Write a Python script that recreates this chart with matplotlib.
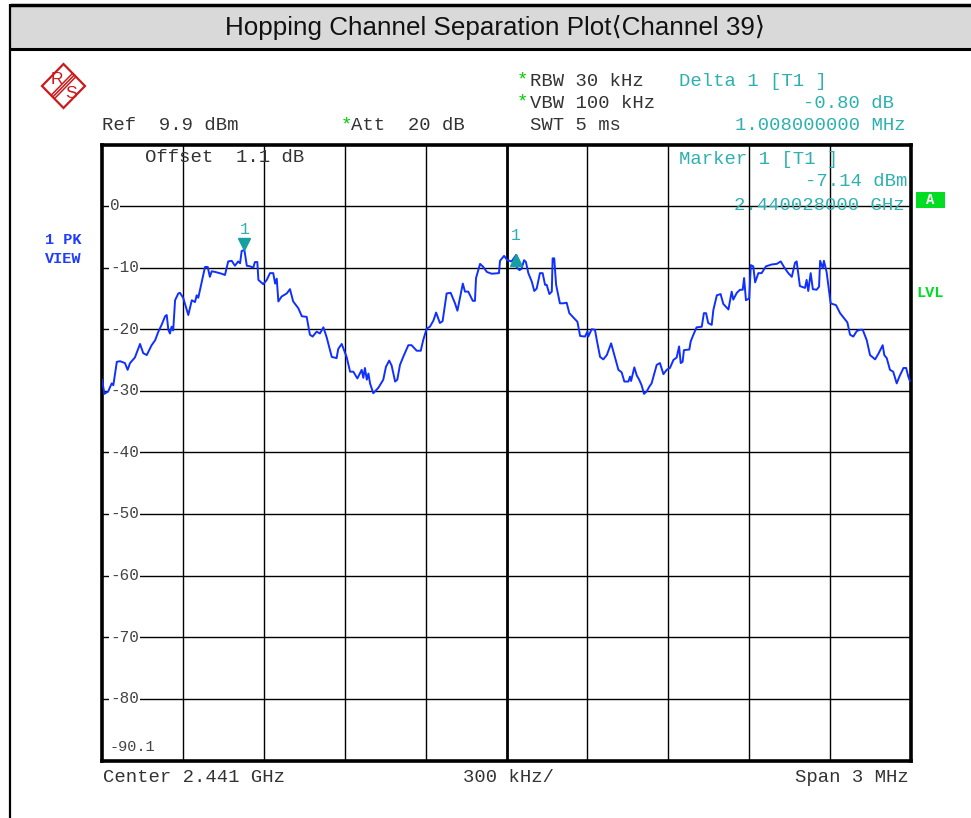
import numpy as np
import matplotlib
matplotlib.use('Agg')
import matplotlib.pyplot as plt
from matplotlib.patches import Rectangle, Polygon
from matplotlib import transforms

# ---------------- data ----------------
freq_mhz = [2439.500, 2439.509, 2439.523, 2439.536, 2439.542, 2439.555, 2439.567, 2439.585, 2439.595, 2439.604,
            2439.622, 2439.641, 2439.653, 2439.666, 2439.684, 2439.697, 2439.709, 2439.721, 2439.734, 2439.740,
            2439.746, 2439.752, 2439.758, 2439.764, 2439.771, 2439.783, 2439.789, 2439.801, 2439.820, 2439.833,
            2439.845, 2439.851, 2439.857, 2439.870, 2439.882, 2439.892, 2439.900, 2439.907, 2439.919, 2439.944,
            2439.956, 2439.968, 2439.981, 2439.993, 2440.005, 2440.012, 2440.018, 2440.028, 2440.037, 2440.049,
            2440.061, 2440.067, 2440.076, 2440.080, 2440.098, 2440.111, 2440.123, 2440.135, 2440.142, 2440.148,
            2440.154, 2440.166, 2440.185, 2440.197, 2440.209, 2440.228, 2440.241, 2440.259, 2440.271, 2440.281,
            2440.296, 2440.308, 2440.321, 2440.333, 2440.352, 2440.370, 2440.376, 2440.389, 2440.407, 2440.420,
            2440.432, 2440.447, 2440.463, 2440.469, 2440.475, 2440.482, 2440.488, 2440.494, 2440.506, 2440.525,
            2440.543, 2440.553, 2440.565, 2440.574, 2440.587, 2440.595, 2440.605, 2440.617, 2440.636, 2440.648,
            2440.667, 2440.682, 2440.691, 2440.704, 2440.716, 2440.729, 2440.739, 2440.753, 2440.763, 2440.778,
            2440.793, 2440.809, 2440.818, 2440.828, 2440.838, 2440.846, 2440.858, 2440.875, 2440.883, 2440.887,
            2440.902, 2440.914, 2440.927, 2440.945, 2440.972, 2440.976, 2440.991, 2441.003, 2441.019, 2441.036,
            2441.038, 2441.048, 2441.056, 2441.065, 2441.072, 2441.081, 2441.094, 2441.103, 2441.112, 2441.124,
            2441.134, 2441.143, 2441.149, 2441.159, 2441.168, 2441.171, 2441.177, 2441.184, 2441.198, 2441.211,
            2441.223, 2441.233, 2441.248, 2441.263, 2441.273, 2441.291, 2441.300, 2441.303, 2441.316, 2441.328,
            2441.335, 2441.347, 2441.359, 2441.372, 2441.388, 2441.402, 2441.415, 2441.427, 2441.437, 2441.452,
            2441.458, 2441.462, 2441.474, 2441.483, 2441.492, 2441.501, 2441.510, 2441.520, 2441.530, 2441.538,
            2441.557, 2441.569, 2441.582, 2441.594, 2441.606, 2441.619, 2441.631, 2441.640, 2441.646, 2441.653,
            2441.658, 2441.678, 2441.683, 2441.693, 2441.705, 2441.724, 2441.732, 2441.740, 2441.748, 2441.761,
            2441.767, 2441.780, 2441.794, 2441.804, 2441.823, 2441.835, 2441.841, 2441.854, 2441.866, 2441.876,
            2441.881, 2441.888, 2441.900, 2441.906, 2441.915, 2441.922, 2441.934, 2441.946, 2441.962, 2441.983,
            2442.002, 2442.017, 2442.029, 2442.045, 2442.058, 2442.070, 2442.076, 2442.088, 2442.107, 2442.113,
            2442.119, 2442.128, 2442.136, 2442.150, 2442.159, 2442.163, 2442.173, 2442.177, 2442.187, 2442.202,
            2442.222, 2442.237, 2442.255, 2442.264, 2442.274, 2442.286, 2442.299, 2442.311, 2442.321, 2442.336,
            2442.348, 2442.367, 2442.379, 2442.395, 2442.401, 2442.410, 2442.422, 2442.434, 2442.447, 2442.457,
            2442.472, 2442.482, 2442.490, 2442.496]

level_dbm = [-28.2, -30.5, -30.1, -28.8, -29.1, -25.3, -25.2, -25.5, -26.6, -25.5,
             -24.6, -22.4, -23.9, -24.2, -22.6, -21.8, -20.4, -19.3, -17.9, -17.7,
             -20.1, -20.7, -19.6, -20.2, -15.3, -14.2, -14.1, -14.9, -17.7, -15.3,
             -15.6, -14.5, -14.9, -12.3, -9.9, -9.9, -11.5, -10.6, -10.7, -11.0,
             -11.2, -9.0, -8.9, -9.7, -9.0, -9.3, -7.3, -7.14, -9.7, -9.8,
             -10.0, -9.1, -9.1, -12.0, -12.7, -12.0, -10.9, -10.9, -12.6, -11.8,
             -15.5, -14.7, -14.2, -13.5, -15.5, -16.6, -17.9, -18.0, -20.9, -21.2,
             -20.4, -20.7, -19.7, -21.3, -24.5, -24.7, -23.2, -22.4, -24.5, -26.9,
             -26.9, -28.0, -26.6, -27.9, -26.3, -28.2, -27.2, -28.8, -30.4, -29.5,
             -28.2, -26.1, -25.1, -25.9, -28.5, -28.2, -25.8, -24.5, -22.6, -22.6,
             -23.5, -23.5, -21.8, -19.9, -19.6, -18.6, -17.3, -19.0, -18.7, -14.2,
             -14.1, -15.8, -17.0, -14.8, -12.6, -13.9, -13.9, -15.4, -15.4, -11.7,
             -9.4, -9.9, -10.7, -11.0, -10.9, -8.9, -8.1, -8.8, -9.0, -7.94,
             -10.0, -10.4, -10.2, -8.8, -9.1, -10.9, -12.3, -13.8, -13.4, -10.9,
             -10.9, -12.8, -12.8, -14.3, -13.9, -8.5, -8.5, -12.8, -15.8, -15.8,
             -15.7, -17.4, -18.1, -18.8, -21.1, -21.2, -20.4, -21.2, -20.0, -20.1,
             -21.8, -24.5, -24.9, -24.2, -22.3, -24.5, -26.6, -27.0, -28.5, -28.5,
             -27.7, -28.4, -26.2, -27.5, -28.2, -29.1, -30.5, -30.1, -29.3, -28.8,
             -25.8, -25.5, -27.3, -26.6, -26.3, -25.0, -24.6, -22.8, -25.5, -25.3,
             -23.4, -23.3, -22.0, -20.9, -19.7, -19.6, -17.4, -17.4, -19.0, -19.3,
             -16.9, -14.5, -14.3, -15.9, -16.8, -13.9, -15.2, -14.1, -13.6, -13.6,
             -11.7, -15.3, -15.0, -9.6, -9.8, -12.4, -10.9, -10.9, -9.8, -9.5,
             -9.4, -9.0, -9.9, -10.9, -11.5, -9.2, -9.0, -13.0, -13.3, -12.0,
             -13.8, -10.9, -13.5, -13.6, -13.1, -8.9, -10.1, -8.9, -10.7, -15.8,
             -16.1, -17.4, -18.4, -18.9, -20.9, -21.2, -20.3, -20.1, -20.1, -21.8,
             -24.2, -24.9, -24.0, -22.6, -24.2, -24.7, -26.6, -26.9, -28.8, -27.7,
             -26.3, -26.3, -27.7, -28.4]

n = min(len(freq_mhz), len(level_dbm))
freq_mhz = freq_mhz[:n]
level_dbm = level_dbm[:n]

center_mhz = 2441.0
span_mhz = 3.0
ref_level = 9.9
range_db = 100.0
y_ticks = [0, -10, -20, -30, -40, -50, -60, -70, -80]
y_tick_labels = ['0', '-10', '-20', '-30', '-40', '-50', '-60', '-70', '-80']
bottom_label = '-90.1'

marker1_freq = 2440.028
marker1_level = -7.14
delta_freq = 1.008
delta_level = -0.80

# ---------------- figure ----------------
W, H = 971, 818
fig = plt.figure(figsize=(W / 100, H / 100), dpi=100)
fig.patch.set_facecolor('white')

ov = fig.add_axes([0, 0, 1, 1], zorder=0)
ov.set_xlim(0, W); ov.set_ylim(H, 0); ov.axis('off')

ax = fig.add_axes([102 / W, 1 - 761 / H, 809 / W, 616 / H], zorder=1)
top = fig.add_axes([0, 0, 1, 1], zorder=2)
top.set_xlim(0, W); top.set_ylim(H, 0); top.axis('off')
top.patch.set_alpha(0)

MONO = 'Liberation Mono'
TXT = '#333333'
TEAL = '#2fb0b0'
GREEN = '#00cc00'

# title band
ov.add_patch(Rectangle((10, 5), W - 10, 43, fc='#d9d9d9', ec='none'))
ov.plot([10, W], [5, 5], color='black', lw=2.5, solid_capstyle='butt')
ov.plot([10, W], [48.5, 48.5], color='black', lw=2.2, solid_capstyle='butt')
ov.plot([10, 10], [4, H], color='black', lw=1.6, solid_capstyle='butt')
ov.text(495, 27.5, 'Hopping Channel Separation Plot\u27e8Channel 39\u27e9', ha='center', va='center',
        fontsize=18.7, family=['Liberation Sans', 'DejaVu Sans'], color='#111111')

# ---------------- main plot ----------------
x0, x1 = center_mhz - span_mhz / 2, center_mhz + span_mhz / 2
ax.set_xlim(x0, x1)
ax.set_ylim(ref_level - range_db, ref_level)
ax.set_xticks([]); ax.set_yticks([])
for s in ax.spines.values():
    s.set_linewidth(2.6)
    s.set_color('black')

xgrid = np.linspace(x0, x1, 11)[1:-1]
for i, xv in enumerate(xgrid):
    ax.axvline(xv, color='black', lw=2.0 if i == 4 else 1.0, zorder=1)
for yv in y_ticks:
    ax.axhline(yv, color='black', lw=1.0, zorder=1)

btr = transforms.blended_transform_factory(ax.transAxes, ax.transData)
for yv, lab in zip(y_ticks, y_tick_labels):
    ax.text(8 / 809, yv, lab, transform=btr, ha='left', va='center', fontsize=11.5, family=MONO,
            color='#444444', zorder=2, bbox=dict(fc='white', ec='none', pad=0.6))
ax.text(7 / 809, 14 / 616, bottom_label, transform=ax.transAxes, ha='left', va='center',
        fontsize=11, family=MONO, color='#444444', zorder=2)

ax.plot(freq_mhz, level_dbm, color='#1030ff', lw=1.4, zorder=3, solid_joinstyle='round')

# markers
MK = '#14a0a0'
up = transforms.offset_copy(ax.transData, fig=fig, y=4.0, units='points')
ax.plot([marker1_freq], [marker1_level], marker='v', ms=8, color=MK, transform=up, zorder=4, clip_on=False)
lab_up = transforms.offset_copy(ax.transData, fig=fig, y=15, units='points')
ax.text(marker1_freq, marker1_level, '1', transform=lab_up, ha='center', va='center',
        fontsize=12, family=MONO, color=TEAL, zorder=4)
d_f = marker1_freq + delta_freq
d_l = marker1_level + delta_level
dn = transforms.offset_copy(ax.transData, fig=fig, y=-4.0, units='points')
ax.plot([d_f], [d_l], marker='^', ms=8, color=MK, transform=dn, zorder=4, clip_on=False)
lab_d = transforms.offset_copy(ax.transData, fig=fig, y=14, units='points')
ax.text(d_f, d_l, '1', transform=lab_d, ha='center', va='center',
        fontsize=12, family=MONO, color=TEAL, zorder=4)

# ---------------- header texts ----------------
FS = 13.6
top.text(102, 126, 'Ref  %.1f dBm' % ref_level, ha='left', va='center', fontsize=FS, family=MONO, color=TXT)
top.text(341, 125, '*', ha='left', va='center', fontsize=FS, family=MONO, color=GREEN)
top.text(351, 126, 'Att  20 dB', ha='left', va='center', fontsize=FS, family=MONO, color=TXT)
top.text(530, 126, 'SWT 5 ms', ha='left', va='center', fontsize=FS, family=MONO, color=TXT)
top.text(517, 80, '*', ha='left', va='center', fontsize=FS, family=MONO, color=GREEN)
top.text(530, 81, 'RBW 30 kHz', ha='left', va='center', fontsize=FS, family=MONO, color=TXT)
top.text(517, 102, '*', ha='left', va='center', fontsize=FS, family=MONO, color=GREEN)
top.text(530, 103, 'VBW 100 kHz', ha='left', va='center', fontsize=FS, family=MONO, color=TXT)
top.text(679, 81, 'Delta 1 [T1 ]', ha='left', va='center', fontsize=FS, family=MONO, color=TEAL)
top.text(894, 103, '%.2f dB' % delta_level, ha='right', va='center', fontsize=FS, family=MONO, color=TEAL)
top.text(906, 126, '%.9f MHz' % delta_freq, ha='right', va='center', fontsize=FS, family=MONO, color=TEAL)

top.text(679, 159, 'Marker 1 [T1 ]', ha='left', va='center', fontsize=FS, family=MONO, color=TEAL)
top.text(907, 182, '%.2f dBm' % marker1_level, ha='right', va='center', fontsize=FS, family=MONO, color=TEAL)
top.text(905, 205, '%.9f GHz' % (marker1_freq / 1000), ha='right', va='center', fontsize=FS, family=MONO,
         color=TEAL)
top.text(145, 158, 'Offset  1.1 dB', ha='left', va='center', fontsize=FS, family=MONO, color=TXT)

top.text(45, 240, '1 PK', ha='left', va='center', fontsize=11, family=MONO, weight='bold', color='#1f3cff')
top.text(45, 259, 'VIEW', ha='left', va='center', fontsize=11, family=MONO, weight='bold', color='#1f3cff')

top.add_patch(Rectangle((916, 192), 29, 16, fc='#00dd22', ec='none'))
top.text(930.5, 200, 'A', ha='center', va='center', fontsize=10, family=MONO, weight='bold', color='white')
top.text(916, 293, 'LVL', ha='left', va='center', fontsize=11, family=MONO, weight='bold', color='#00dd22')

top.text(103, 778, 'Center %.3f GHz' % (center_mhz / 1000), ha='left', va='center', fontsize=FS, family=MONO,
         color=TXT)
top.text(463, 778, '300 kHz/', ha='left', va='center', fontsize=FS, family=MONO, color=TXT)
top.text(909, 778, 'Span %d MHz' % span_mhz, ha='right', va='center', fontsize=FS, family=MONO, color=TXT)

# ---------------- R&S logo ----------------
RED = '#cc1a1a'
cx, cy, hw, hh = 63.5, 86, 21.5, 22
top.add_patch(Polygon([(cx - hw, cy), (cx, cy - hh), (cx + hw, cy), (cx, cy + hh)], closed=True,
                      fc='none', ec=RED, lw=1.6))
for off in (-2.4, 0, 2.4):
    top.plot([cx + hw / 2 + off * 0.7, cx - hw / 2 + off * 0.7],
             [cy - hh / 2 + off * 0.7, cy + hh / 2 + off * 0.7], color=RED, lw=1.1)
top.text(56.5, 80, 'R', ha='center', va='center', fontsize=12.5, color=RED, family='Liberation Sans')
top.text(70.5, 93, 'S', ha='center', va='center', fontsize=12.5, color=RED, family='Liberation Sans')

fig.savefig('out.png', dpi=100, facecolor='white')
